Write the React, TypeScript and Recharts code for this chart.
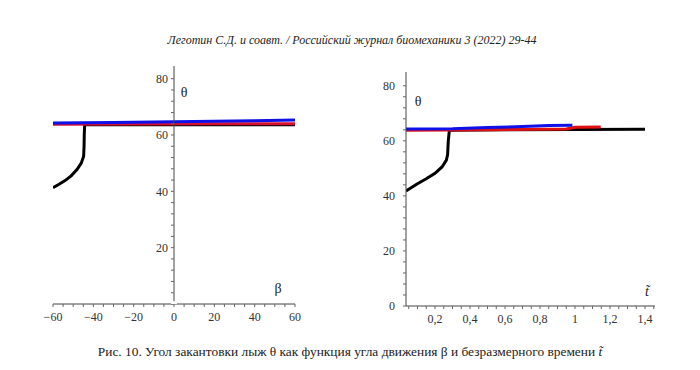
import React from 'react';
import { LineChart, Line, XAxis, YAxis } from 'recharts';

// ---- Data: left panel (θ vs β) ----
const betaBlue = [
  { x: -60, y: 64.3 }, { x: -30, y: 64.4 }, { x: -10, y: 64.6 }, { x: 0, y: 64.7 },
  { x: 20, y: 64.9 }, { x: 40, y: 65.1 }, { x: 60, y: 65.3 },
];
const betaRed = [
  { x: -60, y: 63.8 }, { x: -20, y: 63.9 }, { x: 20, y: 64.0 }, { x: 60, y: 64.0 },
];
const betaBlack = [
  { x: -60, y: 41.3 }, { x: -57, y: 42.5 }, { x: -54, y: 43.8 }, { x: -51, y: 45.5 },
  { x: -48, y: 47.8 }, { x: -46, y: 50 }, { x: -44.8, y: 52.5 }, { x: -44.6, y: 56 },
  { x: -44.5, y: 60 }, { x: -44.3, y: 63.7 }, { x: 60, y: 63.6 },
];

// ---- Data: right panel (θ vs dimensionless time) ----
const timeBlue = [
  { x: 0.0343, y: 64.3 }, { x: 0.3, y: 64.4 }, { x: 0.5, y: 64.8 }, { x: 0.7, y: 65.2 },
  { x: 0.85, y: 65.6 }, { x: 0.985, y: 65.7 },
];
const timeRed = [
  { x: 0.0343, y: 63.8 }, { x: 0.5, y: 64.0 }, { x: 0.95, y: 64.3 }, { x: 1.0, y: 64.9 },
  { x: 1.147, y: 65.0 },
];
const timeBlack = [
  { x: 0.0343, y: 41.8 }, { x: 0.095, y: 44.2 }, { x: 0.15, y: 46.2 }, { x: 0.2, y: 48.2 },
  { x: 0.24, y: 50.5 }, { x: 0.265, y: 53 }, { x: 0.272, y: 55 }, { x: 0.276, y: 60 },
  { x: 0.282, y: 63.8 }, { x: 0.6, y: 64.0 }, { x: 1.4, y: 64.2 },
];

// ---- Tick labels ----
const betaMajor = [-60, -40, -20, 0, 20, 40, 60];
const thetaMajorLeft = [20, 40, 60, 80];
const timeMajor = [0.2, 0.4, 0.6, 0.8, 1, 1.2, 1.4];
const thetaMajorRight = [0, 20, 40, 60, 80];

const betaTicks = Array.from({ length: 25 }, (_, i) => -60 + i * 5);
const thetaTicksLeft = Array.from({ length: 21 }, (_, i) => i * 4);
const timeTicks = Array.from({ length: 29 }, (_, i) => Math.round((0.05 + i * 0.05) * 100) / 100);
const thetaTicksRight = Array.from({ length: 21 }, (_, i) => i * 4);

const SERIF = '"Liberation Serif"';
const tickStyle = { fontSize: 12, fill: '#333', fontFamily: SERIF };
const axisLine = { stroke: '#444', strokeWidth: 1 };

const fmtMinus = (v: number) => (v < 0 ? '\u2212' + Math.abs(v) : String(v));
const fmtComma = (v: number) => String(v).replace('.', ',');

const Label = ({ x, y, children, italic }: any) => (
  <div
    style={{
      position: 'absolute', left: x, top: y, transform: 'translate(-50%, -50%)',
      fontFamily: SERIF, fontSize: 14, color: '#222', fontStyle: italic ? 'italic' : 'normal',
      whiteSpace: 'nowrap', lineHeight: 1,
    }}
  >
    {children}
  </div>
);

export default function App() {
  return (
    <div style={{ position: 'absolute', left: 0, top: 0, width: 700, height: 370, background: '#fff', overflow: 'hidden', fontFamily: SERIF }}>
      {/* header */}
      <div style={{ position: 'absolute', left: 0, width: 700, top: 33, textAlign: 'center', fontFamily: SERIF, fontStyle: 'italic', fontSize: 12, color: '#222', paddingLeft: 2 }}>
        Леготин С.Д. и соавт. / Российский журнал биомеханики 3 (2022) 29-44
      </div>

      {/* left panel */}
      <div style={{ position: 'absolute', left: 0, top: 0 }}>
        <LineChart width={320} height={340} margin={{ top: 66, right: 25, bottom: 16, left: 53 }}>
          <XAxis
            type="number" dataKey="x" domain={[-60, 60]} ticks={betaTicks} interval={0}
            tickFormatter={(v: number) => (betaMajor.includes(v) ? fmtMinus(v) : '')}
            axisLine={axisLine} tickLine={{ stroke: '#666' }} tickSize={3} tickMargin={5}
            tick={tickStyle} height={20} allowDataOverflow
          />
          <YAxis type="number" dataKey="y" domain={[0, 84.5]} hide allowDataOverflow />
          <Line data={betaBlack} dataKey="y" stroke="#000" strokeWidth={3} dot={false} isAnimationActive={false} />
          <Line data={betaRed} dataKey="y" stroke="#d81030" strokeWidth={3} dot={false} isAnimationActive={false} />
          <Line data={betaBlue} dataKey="y" stroke="#1010e8" strokeWidth={3} dot={false} isAnimationActive={false} />
        </LineChart>
      </div>
      {/* left panel: y axis through β = 0 */}
      <div style={{ position: 'absolute', left: 134, top: 0 }}>
        <LineChart width={60} height={340} data={[{ x: 0, y: 0 }]} margin={{ top: 66, right: 10, bottom: 36, left: 0 }}>
          <XAxis type="number" dataKey="x" hide domain={[0, 1]} />
          <YAxis
            type="number" dataKey="y" domain={[0, 84.5]} ticks={thetaTicksLeft} interval={0}
            tickFormatter={(v: number) => (thetaMajorLeft.includes(v) ? String(v) : '')}
            axisLine={axisLine} tickLine={{ stroke: '#666' }} tickSize={3} tickMargin={3}
            tick={tickStyle} width={40} allowDataOverflow
          />
          <Line dataKey="y" stroke="none" dot={false} isAnimationActive={false} />
        </LineChart>
      </div>

      {/* right panel */}
      <div style={{ position: 'absolute', left: 350, top: 0 }}>
        <LineChart width={330} height={340} margin={{ top: 72, right: 25, bottom: 14, left: 0 }}>
          <XAxis
            type="number" dataKey="x" domain={[0.0343, 1.457]} ticks={timeTicks} interval={0}
            tickFormatter={(v: number) => (timeMajor.includes(v) ? fmtComma(v) : '')}
            axisLine={axisLine} tickLine={{ stroke: '#666' }} tickSize={3} tickMargin={5}
            tick={tickStyle} height={20} allowDataOverflow
          />
          <YAxis
            type="number" dataKey="y" domain={[0, 85]} ticks={thetaTicksRight} interval={0}
            tickFormatter={(v: number) => (thetaMajorRight.includes(v) ? String(v) : '')}
            axisLine={axisLine} tickLine={{ stroke: '#666' }} tickSize={3} tickMargin={8}
            tick={tickStyle} width={56} allowDataOverflow
          />
          <Line data={timeBlack} dataKey="y" stroke="#000" strokeWidth={3} dot={false} isAnimationActive={false} />
          <Line data={timeRed} dataKey="y" stroke="#e01010" strokeWidth={3} dot={false} isAnimationActive={false} />
          <Line data={timeBlue} dataKey="y" stroke="#1010e8" strokeWidth={3} dot={false} isAnimationActive={false} />
        </LineChart>
      </div>

      {/* axis symbols */}
      <Label x={184} y={93}>θ</Label>
      <Label x={278} y={289}>β</Label>
      <Label x={418} y={102}>θ</Label>
      <Label x={647} y={292} italic>t̃</Label>

      {/* caption */}
      <div style={{ position: 'absolute', left: 0, width: 700, top: 344, textAlign: 'center', fontFamily: SERIF, fontSize: 13.4, color: '#222', paddingLeft: 0 }}>
        Рис. 10. Угол закантовки лыж θ как функция угла движения β и безразмерного времени <i>t̃</i>
      </div>
    </div>
  );
}
